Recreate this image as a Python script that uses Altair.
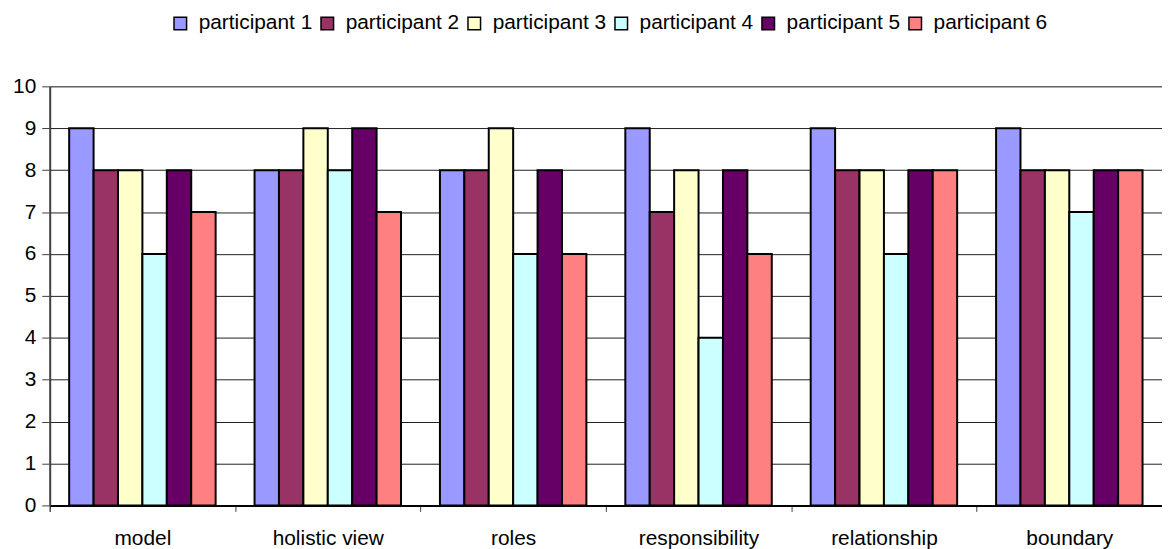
import altair as alt
import pandas as pd

categories = ["model", "holistic view", "roles", "responsibility", "relationship", "boundary"]
participants = ["participant 1", "participant 2", "participant 3", "participant 4", "participant 5", "participant 6"]
p1 = [9, 8, 8, 9, 9, 9]
p2 = [8, 8, 8, 7, 8, 8]
p3 = [8, 9, 9, 8, 8, 8]
p4 = [6, 8, 6, 4, 6, 7]
p5 = [8, 9, 8, 8, 8, 8]
p6 = [7, 7, 6, 6, 8, 8]
colors = ["#9999FF", "#993366", "#FFFFCC", "#CCFFFF", "#660066", "#FF8080"]

series = [p1, p2, p3, p4, p5, p6]
rows = []
for pi, (name, vals) in enumerate(zip(participants, series)):
    for ci, cat in enumerate(categories):
        rows.append({"category": cat, "participant": name, "value": vals[ci]})
df = pd.DataFrame(rows)

FONT = "Liberation Sans"
FS = 21

chart = alt.Chart(df).mark_bar(stroke="black", strokeWidth=2).encode(
    x=alt.X("category:N", sort=categories,
            scale=alt.Scale(paddingInner=0.21, paddingOuter=0.105),
            axis=alt.Axis(title=None, labelAngle=0, bandPosition=0, tickExtra=True,
                          tickOffset=-19.6, labelOffset=19.6,
                          grid=False,
                          domainColor="black", domainWidth=2, tickColor="#404040",
                          tickSize=6, labelPadding=16, labelFontSize=FS,
                          labelFont=FONT, labelColor="black")),
    xOffset=alt.XOffset("participant:N", sort=participants,
                        scale=alt.Scale(paddingInner=0, paddingOuter=0)),
    y=alt.Y("value:Q", scale=alt.Scale(domain=[0, 10]),
            axis=alt.Axis(title=None, values=list(range(11)), grid=True,
                          gridColor="#202020", gridWidth=1, domainColor="#404040",
                          domainWidth=2, tickColor="#404040", tickSize=8,
                          labelPadding=6, labelFontSize=FS, labelFont=FONT,
                          labelColor="black")),
    color=alt.Color("participant:N", sort=participants,
                    scale=alt.Scale(domain=participants, range=colors),
                    legend=alt.Legend(title=None, orient="none", direction="horizontal",
                                      columns=6, legendX=121, legendY=-74,
                                      symbolType="square", symbolSize=160,
                                      symbolStrokeColor="black", symbolStrokeWidth=1.5,
                                      labelFontSize=FS, labelFont=FONT, labelColor="black",
                                      labelOffset=8, columnPadding=4, padding=0)),
).properties(
    width=1120, height=422,
    autosize=alt.AutoSizeParams(type="none"),
    padding={"left": 42, "top": 77, "right": 0, "bottom": 42},
).configure_view(
    fill="#C0C0C0", stroke="#808080", strokeWidth=2
).configure(background="white")

chart.save("out.html", embed_options={"renderer": "svg", "actions": False})
